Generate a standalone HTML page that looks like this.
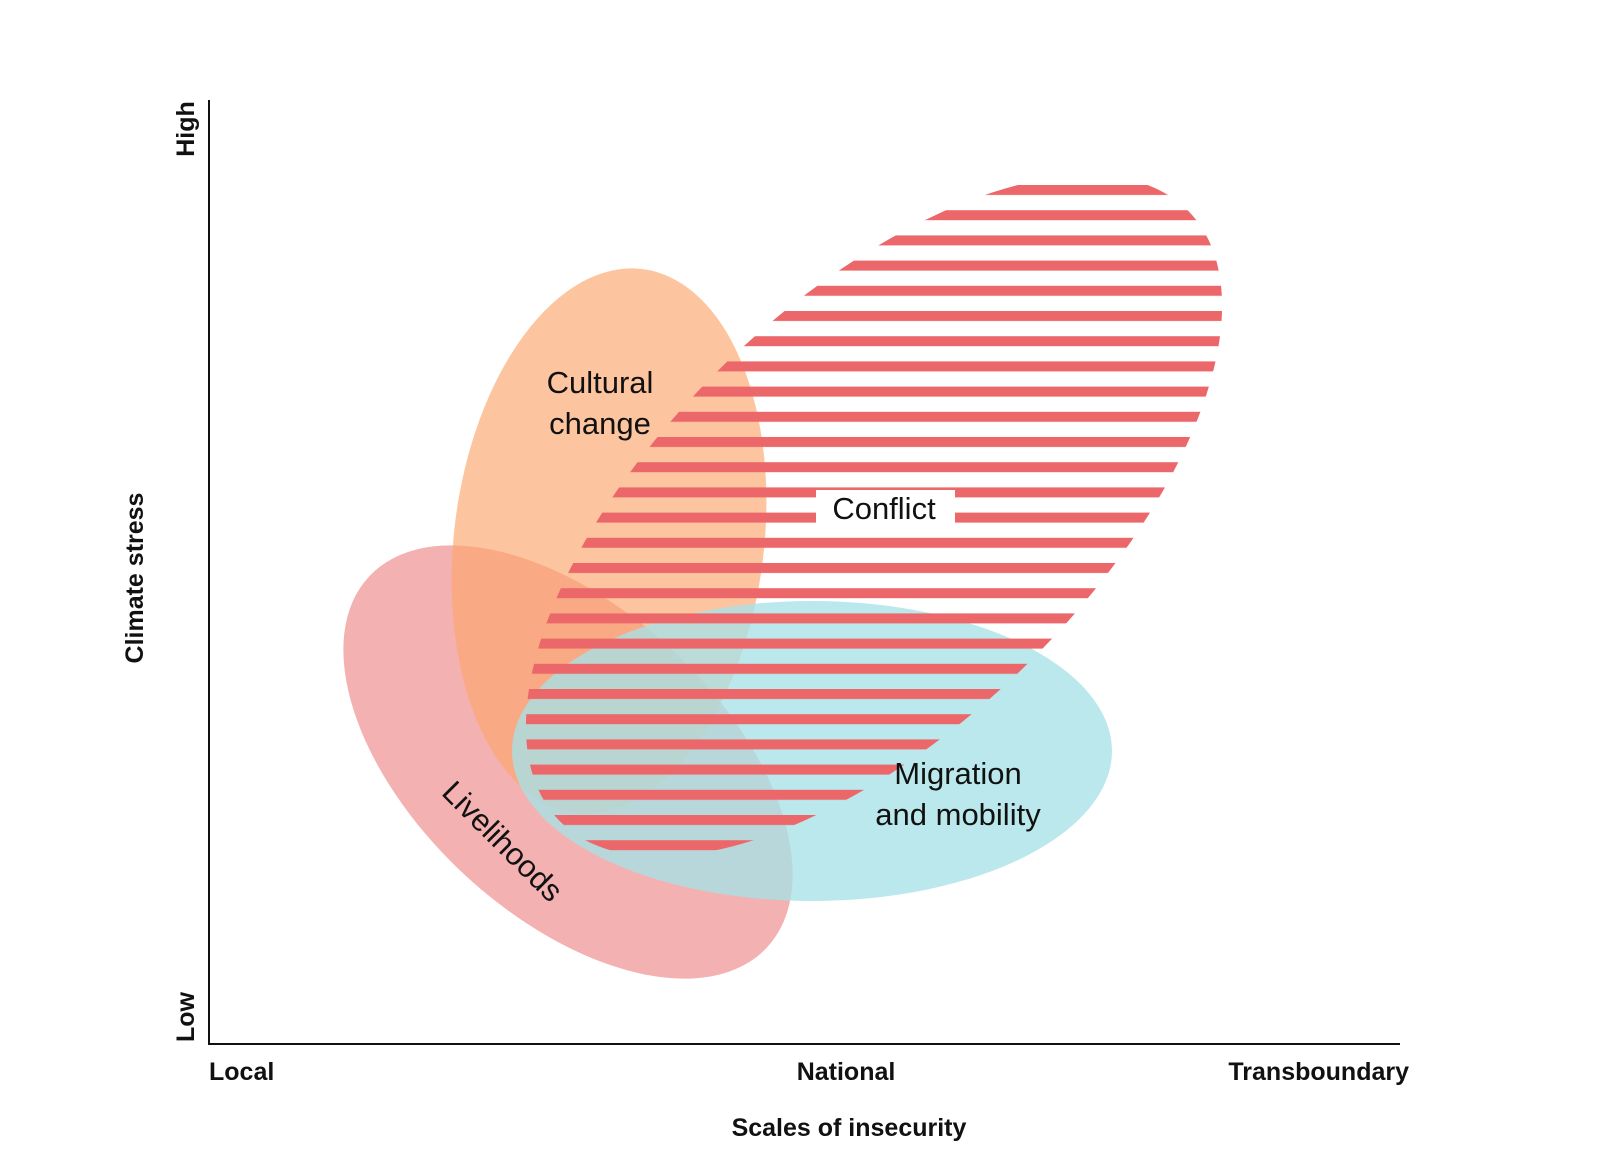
<!DOCTYPE html>
<html><head><meta charset="utf-8"><style>
html,body{margin:0;padding:0;background:#fff}
svg{display:block}
text{font-family:"Liberation Sans","DejaVu Sans",sans-serif;fill:#111}
</style></head><body>
<svg width="1600" height="1165" viewBox="0 0 1600 1165" xmlns="http://www.w3.org/2000/svg">
<defs>
<pattern id="st" x="0" y="185" width="40" height="25.2" patternUnits="userSpaceOnUse">
<rect x="0" y="0" width="40" height="10" fill="#EC6769"/>
</pattern>
<clipPath id="cc"><ellipse cx="874" cy="516" rx="438" ry="213" transform="rotate(-44 874 516)"/></clipPath>
</defs>
<ellipse cx="568" cy="762" rx="272" ry="153" transform="rotate(43 568 762)" fill="#F4B1B2"/>
<ellipse cx="609" cy="541" rx="155" ry="274" transform="rotate(7 609 541)" fill="#FCA66B" fill-opacity="0.65"/>
<ellipse cx="812" cy="751" rx="300" ry="150" fill="#A6E2E7" fill-opacity="0.78"/>
<rect x="300" y="100" width="1200" height="900" fill="url(#st)" clip-path="url(#cc)"/>
<rect x="816" y="490" width="139" height="38" fill="#fff"/>
<text x="884" y="519" font-size="31" text-anchor="middle">Conflict</text>
<text x="600" y="393" font-size="31" text-anchor="middle">Cultural</text>
<text x="600" y="434" font-size="31" text-anchor="middle">change</text>
<text x="958" y="784" font-size="31" text-anchor="middle">Migration</text>
<text x="958" y="825" font-size="31" text-anchor="middle">and mobility</text>
<text x="503" y="852" font-size="31" text-anchor="middle" transform="rotate(45 503 841)">Livelihoods</text>
<line x1="209" y1="100" x2="209" y2="1044" stroke="#111" stroke-width="2"/>
<line x1="208" y1="1044" x2="1400" y2="1044" stroke="#111" stroke-width="2"/>
<text font-size="25" font-weight="bold" text-anchor="middle" transform="translate(194 129) rotate(-90)">High</text>
<text font-size="25" font-weight="bold" text-anchor="middle" transform="translate(194 1017) rotate(-90)">Low</text>
<text font-size="25" font-weight="bold" text-anchor="middle" transform="translate(143 578) rotate(-90)">Climate stress</text>
<text x="209" y="1080" font-size="25" font-weight="bold">Local</text>
<text x="846" y="1080" font-size="25" font-weight="bold" text-anchor="middle">National</text>
<text x="1409" y="1080" font-size="25" font-weight="bold" text-anchor="end">Transboundary</text>
<text x="849" y="1136" font-size="25" font-weight="bold" text-anchor="middle">Scales of insecurity</text>
</svg>
</body></html>
